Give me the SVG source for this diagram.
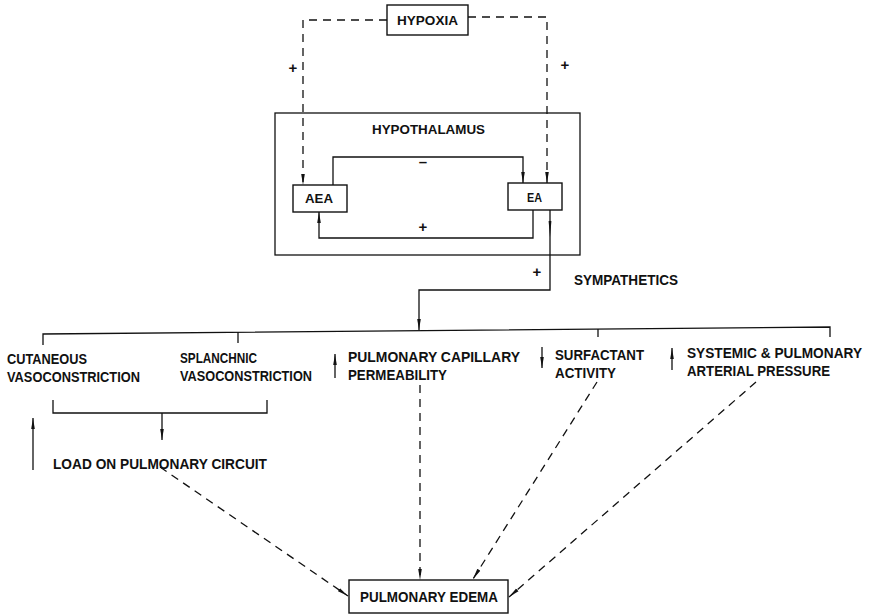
<svg xmlns="http://www.w3.org/2000/svg" width="874" height="615" viewBox="0 0 874 615">
<defs>
<style>
.t{font-family:"Liberation Sans",Arial,sans-serif;font-weight:bold;font-size:15px;fill:#111}
.ts{font-size:13px}
.tn{font-size:14px}
.box{fill:#fff;stroke:#111;stroke-width:1.4}
.ln{fill:none;stroke:#111;stroke-width:1.3}
.da{fill:none;stroke:#111;stroke-width:1.3;stroke-dasharray:8,6}
</style>
<marker id="ah" viewBox="0 0 11 6" refX="11" refY="3" markerWidth="11" markerHeight="6" markerUnits="userSpaceOnUse" orient="auto">
<path d="M0,1.2 L11,3 L0,4.8 Z" fill="#111"/>
</marker>
</defs>
<rect width="874" height="615" fill="#fff"/>

<g id="connectors">
<path class="da" d="M387,20 H303 V185" marker-end="url(#ah)"/>
<path class="da" d="M468,17 H547 V183" marker-end="url(#ah)"/>
<path class="ln" d="M333,185 V157 H523 V183" marker-end="url(#ah)"/>
<path class="ln" d="M533,210 V238 H319 V212" marker-end="url(#ah)"/>
<path class="ln" d="M550,210 V290 H419 V330" marker-end="url(#ah)"/>
<path d="M548.6,221 L551.4,221 L550,237 Z" fill="#111"/>
<path class="ln" d="M43,345 V334 L830,327 V337"/>
<path class="ln" d="M238,332 V343"/>
<path class="ln" d="M598,329 V337"/>
<path class="ln" d="M53,400 V413 H267 V400"/>
<path class="ln" d="M162,413 V440" marker-end="url(#ah)"/>
<path class="ln" d="M33,470 V418" marker-end="url(#ah)"/>
<path class="ln" d="M335,378 V354" marker-end="url(#ah)"/>
<path class="ln" d="M542,347 V368" marker-end="url(#ah)"/>
<path class="ln" d="M672,370 V348" marker-end="url(#ah)"/>
<path class="da" d="M160,467 L348,596" marker-end="url(#ah)"/>
<path class="da" d="M420,385 V580" marker-end="url(#ah)"/>
<path class="da" d="M597,382 L473,579" marker-end="url(#ah)"/>
<path class="da" d="M756,382 L509,597" marker-end="url(#ah)"/>
<text class="t" x="293" y="73" text-anchor="middle">+</text>
<text class="t" x="565" y="70" text-anchor="middle">+</text>
<text class="t" x="423" y="167" text-anchor="middle">–</text>
<text class="t" x="423" y="232" text-anchor="middle">+</text>
<text class="t" x="537" y="277" text-anchor="middle">+</text>
</g>

<g id="hypoxia">
<rect class="box" x="387" y="5" width="81" height="30"/>
<text class="t ts" x="397" y="25" textLength="61" lengthAdjust="spacingAndGlyphs">HYPOXIA</text>
</g>

<g id="hypothalamus">
<rect class="ln" x="275" y="113" width="305" height="142"/>
<text class="t ts" x="372" y="134" textLength="113" lengthAdjust="spacingAndGlyphs">HYPOTHALAMUS</text>
</g>

<g id="aea">
<rect class="box" x="293" y="185" width="54" height="27"/>
<text class="t ts" x="305" y="203" textLength="28" lengthAdjust="spacingAndGlyphs">AEA</text>
</g>

<g id="ea">
<rect class="box" x="508" y="183" width="54" height="27"/>
<text class="t ts" x="527" y="202" textLength="15" lengthAdjust="spacingAndGlyphs">EA</text>
</g>

<g id="sympathetics">
<text class="t" x="574" y="285" textLength="104" lengthAdjust="spacingAndGlyphs">SYMPATHETICS</text>
</g>

<g id="cutaneous">
<text class="t" x="7" y="364" textLength="80" lengthAdjust="spacingAndGlyphs">CUTANEOUS</text>
<text class="t" x="7" y="382" textLength="133" lengthAdjust="spacingAndGlyphs">VASOCONSTRICTION</text>
</g>

<g id="splanchnic">
<text class="t" x="180" y="363" textLength="77" lengthAdjust="spacingAndGlyphs">SPLANCHNIC</text>
<text class="t" x="180" y="381" textLength="132" lengthAdjust="spacingAndGlyphs">VASOCONSTRICTION</text>
</g>

<g id="permeability">
<text class="t" x="348" y="362" textLength="172" lengthAdjust="spacingAndGlyphs">PULMONARY CAPILLARY</text>
<text class="t" x="348" y="380" textLength="99" lengthAdjust="spacingAndGlyphs">PERMEABILITY</text>
</g>

<g id="surfactant">
<text class="t" x="555" y="360" textLength="89" lengthAdjust="spacingAndGlyphs">SURFACTANT</text>
<text class="t" x="555" y="378" textLength="61" lengthAdjust="spacingAndGlyphs">ACTIVITY</text>
</g>

<g id="systemic">
<text class="t tn" x="687" y="358" textLength="175" lengthAdjust="spacingAndGlyphs">SYSTEMIC &amp; PULMONARY</text>
<text class="t" x="687" y="376" textLength="143" lengthAdjust="spacingAndGlyphs">ARTERIAL PRESSURE</text>
</g>

<g id="load">
<text class="t" x="53" y="469" textLength="214" lengthAdjust="spacingAndGlyphs">LOAD ON PULMONARY CIRCUIT</text>
</g>

<g id="edema">
<rect class="box" x="349" y="580" width="159" height="33"/>
<text class="t" x="360" y="602" textLength="138" lengthAdjust="spacingAndGlyphs">PULMONARY EDEMA</text>
</g>
</svg>
